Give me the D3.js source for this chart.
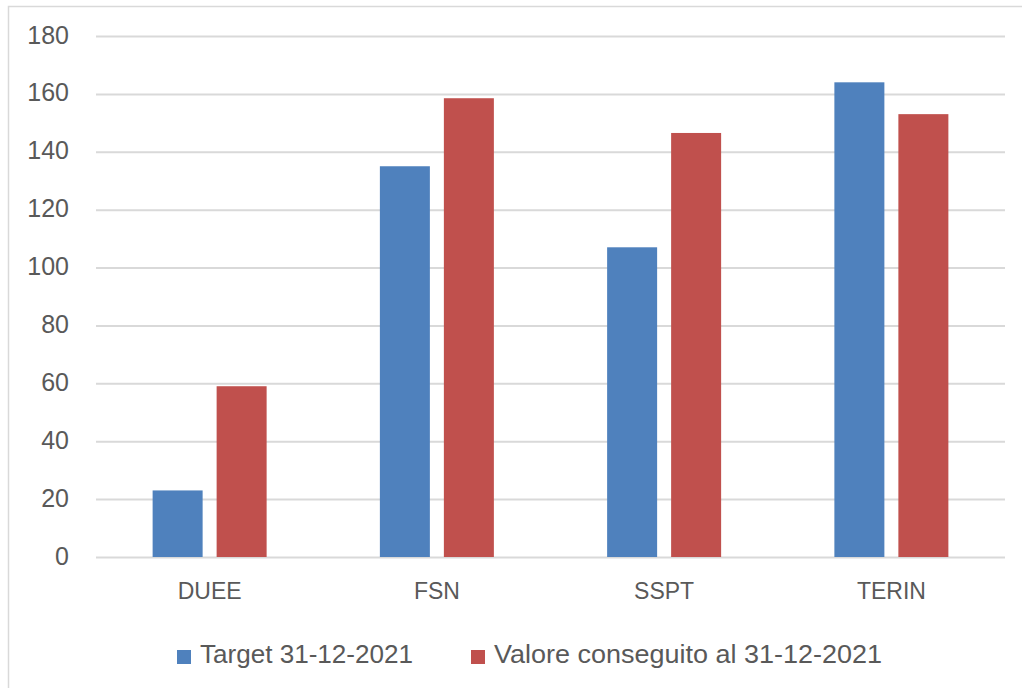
<!DOCTYPE html>
<html><head><meta charset="utf-8">
<script src="https://cdn.jsdelivr.net/npm/d3@7"></script>
<style>body{margin:0;background:#fff;} svg{display:block;font-family:"Liberation Sans",Arial,sans-serif;}</style>
</head><body>
<svg id="c" width="1022" height="688"></svg>
<script>
const categories = ["DUEE","FSN","SSPT","TERIN"];
const seriesNames = ["Target 31-12-2021","Valore conseguito al 31-12-2021"];
const targetValues = [23, 135, 107, 164];
const achievedValues = [59, 158.5, 146.5, 153];
const yTicks = [0,20,40,60,80,100,120,140,160,180];
const colors = ["#4f81bd","#c0504d"];

const svg = d3.select("#c");
svg.append("rect").attr("x",8.5).attr("y",6.5).attr("width",1030).attr("height",700)
  .attr("fill","#fff").attr("stroke","#d9d9d9").attr("stroke-width",1.5);

const pLeft=96, pRight=1005, pTop=36, pBottom=557;
const barW=50, gap=14, groupW=2*barW+gap;
const x0 = d3.scaleBand().domain(categories).range([pLeft,pRight]).paddingInner(0).paddingOuter(0);
const x1 = d3.scaleBand().domain([0,1]).range([0,groupW]).paddingInner(gap/(barW+gap));
const y = d3.scaleLinear().domain([0,180]).range([pBottom,pTop]);

const yAxis = d3.axisLeft(y).tickValues(yTicks).tickSize(0).tickPadding(27);
const gy = svg.append("g").attr("transform",`translate(${pLeft},0)`).call(yAxis);
gy.select(".domain").remove();
gy.selectAll(".tick line").attr("stroke","#d9d9d9").attr("stroke-width",2).attr("x1",0).attr("x2",pRight-pLeft);
gy.selectAll(".tick text").attr("fill","#595959").attr("font-size",25).attr("dy","0.28em");

const data = categories.map((c,i)=>({c, v:[targetValues[i], achievedValues[i]]}));
const groups = svg.append("g").selectAll("g").data(data).join("g")
  .attr("transform",d=>`translate(${x0(d.c)+x0.bandwidth()/2-groupW/2},0)`);
groups.selectAll("rect").data(d=>d.v.map((v,k)=>({v,k}))).join("rect")
  .attr("x",d=>x1(d.k)).attr("width",x1.bandwidth())
  .attr("y",d=>y(d.v)).attr("height",d=>y(0)-y(d.v))
  .attr("fill",d=>colors[d.k]);

const xAxis = d3.axisBottom(x0).tickSize(0).tickPadding(26);
const gx = svg.append("g").attr("transform",`translate(0,${pBottom})`).call(xAxis);
gx.select(".domain").remove();
gx.selectAll(".tick text").attr("fill","#595959").attr("font-size",23);

const legendX=[177,471], legendW=[213,388];
const lg = svg.append("g");
seriesNames.forEach((n,i)=>{
  lg.append("rect").attr("x",legendX[i]).attr("y",650).attr("width",14).attr("height",14).attr("fill",colors[i]);
  lg.append("text").attr("x",legendX[i]+23).attr("y",663).attr("fill","#595959").attr("font-size",25)
    .attr("textLength",legendW[i]).attr("lengthAdjust","spacingAndGlyphs").text(n);
});
</script>
</body></html>
